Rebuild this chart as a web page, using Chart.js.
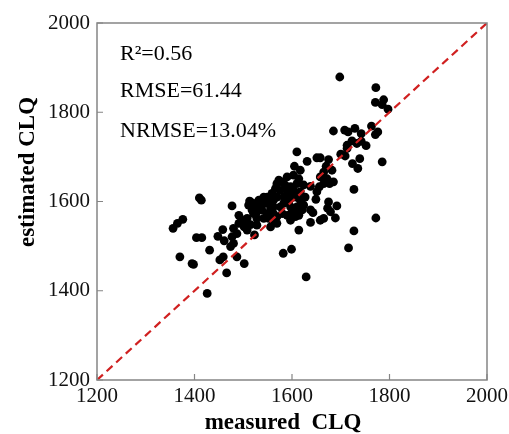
<!DOCTYPE html>
<html>
<head>
<meta charset="utf-8">
<script src="https://cdn.jsdelivr.net/npm/chart.js@4.4.1/dist/chart.umd.min.js"></script>
<style>
  html, body { margin: 0; padding: 0; background: #fff; }
  #wrap { width: 509px; height: 434px; position: relative; }
</style>
</head>
<body>
<div id="wrap"><canvas id="c" width="509" height="434"></canvas></div>
<script>
// ---- data ----
const xTickValues = [1200, 1400, 1600, 1800, 2000];
const yTickValues = [1200, 1400, 1600, 1800, 2000];
const xTitle = "measured  CLQ";
const yTitle = "estimated CLQ";
const statLines = ["R\u00B2=0.56", "RMSE=61.44", "NRMSE=13.04%"];
const lineOneToOne = [1200, 2000];

const measured = [
  1698,1772,1771,1788,1785,1797,1685,1708,1715,1729,1742,1763,1776,1771,1713,1723,1733,1742,1752,1713,
  1700,1709,1739,1724,1735,1785,1727,1772,1727,1716,1629,1610,1605,1631,1651,1658,1675,1670,1682,1665,
  1658,1672,1685,1677,1665,1656,1638,1651,1649,1675,1692,1673,1679,1638,1643,1638,1665,1658,1689,1614,
  1599,1582,1603,1614,1624,
  1573,1580,1569,1586,1566,1576,1590,1597,1559,1549,1542,1569,1583,1597,1607,1617,1624,1610,1597,1583,
  1576,1562,1556,1545,1535,1528,1521,1515,1511,1518,1528,1538,1549,1562,1569,1580,1590,1600,1607,1614,
  1597,1562,1569,1610,1621,1627,1617,1603,1610,1597,1590,1617,1508,1528,1556,1562,1532,1556,1593,1552,
  1542,
  1477,1491,1497,1504,1508,1521,1528,1515,1502,1491,1480,1487,1477,1480,1474,1458,1448,1461,1431,1452,
  1459,1466,1487,1502,1523,1426,1398,1395,1370,1356,1365,1376,1404,1415,1410,1414,1513
];
const estimated = [
  1879,1855,1822,1828,1817,1807,1758,1760,1756,1764,1752,1769,1756,1750,1726,1736,1730,1735,1725,1719,
  1706,1702,1696,1685,1674,1689,1627,1563,1534,1496,1431,1711,1679,1690,1698,1698,1694,1679,1670,1666,
  1655,1651,1644,1640,1640,1633,1634,1622,1605,1599,1590,1585,1577,1581,1575,1553,1562,1558,1563,1536,
  1493,1484,1659,1651,1637,
  1648,1644,1640,1637,1629,1625,1625,1618,1618,1610,1610,1610,1610,1607,1610,1603,1592,1588,1588,1596,
  1588,1588,1584,1596,1592,1588,1596,1599,1592,1581,1577,1581,1573,1573,1566,1573,1569,1577,1566,1569,
  1558,1554,1551,1581,1581,1610,1622,1625,1640,1633,1655,1670,1536,1547,1543,1603,1603,1599,1599,1562,
  1562,
  1590,1569,1558,1551,1562,1573,1562,1548,1543,1551,1540,1528,1521,1506,1499,1537,1522,1512,1491,1469,
  1476,1440,1476,1461,1525,1394,1459,1461,1476,1540,1551,1560,1519,1519,1608,1603,1601
];

const points = measured.map((m, i) => ({ x: m, y: estimated[i] }));
const diag = lineOneToOne.map(v => ({ x: v, y: v }));

const PLOT = { left: 97, right: 487, top: 23, bottom: 380 };

const framePlugin = {
  id: 'frame',
  afterDraw(chart) {
    const ctx = chart.ctx;
    const xs = chart.scales.x, ys = chart.scales.y;
    const a = chart.chartArea;
    ctx.save();
    ctx.strokeStyle = '#858585';
    ctx.lineWidth = 1.5;
    ctx.strokeRect(a.left, a.top, a.right - a.left, a.bottom - a.top);
    ctx.lineWidth = 1.2;
    ctx.beginPath();
    xs.ticks.forEach(t => {
      const p = xs.getPixelForValue(t.value);
      ctx.moveTo(p, a.bottom);
      ctx.lineTo(p, a.bottom - 6);
    });
    ys.ticks.forEach(t => {
      const p = ys.getPixelForValue(t.value);
      ctx.moveTo(a.left, p);
      ctx.lineTo(a.left + 6, p);
    });
    ctx.stroke();

    // axis titles
    ctx.fillStyle = '#000';
    ctx.font = 'bold 23px "Liberation Serif", "Times New Roman", serif';
    ctx.textAlign = 'center';
    ctx.textBaseline = 'alphabetic';
    ctx.fillText(xTitle, 283, 429);
    ctx.save();
    ctx.translate(34, 172);
    ctx.rotate(-Math.PI / 2);
    ctx.fillText(yTitle, 0, 0);
    ctx.restore();

    // statistics
    ctx.font = '22px "Liberation Serif", "Times New Roman", serif';
    ctx.textAlign = 'left';
    const baselines = [60, 97, 137];
    statLines.forEach((s, i) => ctx.fillText(s, 120, baselines[i]));
    ctx.restore();
  }
};

new Chart(document.getElementById('c'), {
  type: 'scatter',
  data: {
    datasets: [
      {
        type: 'line',
        data: diag,
        borderColor: '#d02020',
        borderWidth: 2.2,
        borderDash: [8, 5],
        pointRadius: 0,
        fill: false
      },
      {
        data: points,
        backgroundColor: '#000',
        borderWidth: 0,
        pointRadius: 4.4,
        pointHoverRadius: 4.4
      }
    ]
  },
  options: {
    responsive: false,
    animation: false,
    devicePixelRatio: 1,
    layout: { padding: { left: 0, right: 509 - PLOT.right, top: PLOT.top, bottom: 0 } },
    plugins: { legend: { display: false }, tooltip: { enabled: false } },
    scales: {
      x: {
        type: 'linear',
        min: 1200, max: 2000,
        afterBuildTicks(scale) { scale.ticks = xTickValues.map(v => ({ value: v })); },
        afterFit(scale) {
          scale.height = 434 - PLOT.bottom;
          scale.paddingLeft = 0; scale.paddingRight = 0;
        },
        grid: { display: false, drawTicks: false },
        border: { display: false },
        ticks: {
          padding: 4,
          color: '#111',
          font: { family: '"Liberation Serif", "Times New Roman", serif', size: 21 },
          maxRotation: 0,
          callback: v => String(v)
        }
      },
      y: {
        type: 'linear',
        min: 1200, max: 2000,
        afterBuildTicks(scale) { scale.ticks = yTickValues.map(v => ({ value: v })); },
        afterFit(scale) {
          scale.width = PLOT.left;
          scale.paddingTop = 0; scale.paddingBottom = 0;
        },
        grid: { display: false, drawTicks: false },
        border: { display: false },
        ticks: {
          padding: 7,
          color: '#111',
          font: { family: '"Liberation Serif", "Times New Roman", serif', size: 21 },
          callback: v => String(v)
        }
      }
    }
  },
  plugins: [framePlugin]
});
</script>
</body>
</html>
